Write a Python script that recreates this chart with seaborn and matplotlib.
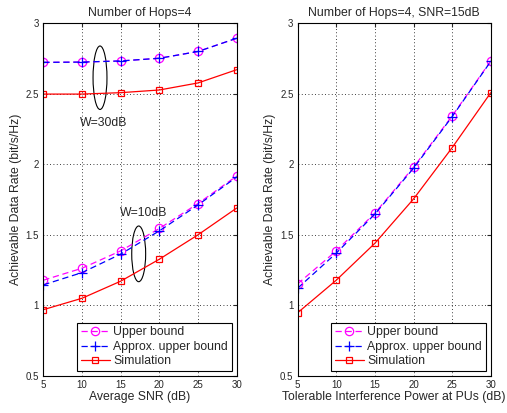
import numpy as np
import matplotlib
matplotlib.use('Agg')
import matplotlib.pyplot as plt
import seaborn as sns
from matplotlib.patches import Ellipse
from matplotlib.ticker import FuncFormatter

snr = [5, 10, 15, 20, 25, 30]

# left panel, W=30dB
ub_w30 = [2.723, 2.725, 2.733, 2.752, 2.800, 2.894]
ap_w30 = [2.723, 2.725, 2.733, 2.752, 2.800, 2.894]
sim_w30 = [2.498, 2.498, 2.508, 2.527, 2.577, 2.671]

# left panel, W=10dB
ub_w10 = [1.178, 1.263, 1.386, 1.545, 1.722, 1.917]
ap_w10 = [1.145, 1.232, 1.363, 1.528, 1.712, 1.910]
sim_w10 = [0.969, 1.050, 1.171, 1.327, 1.500, 1.690]

# right panel
itp = [5, 10, 15, 20, 25, 30]
ub_r = [1.152, 1.386, 1.654, 1.979, 2.343, 2.733]
ap_r = [1.121, 1.370, 1.647, 1.972, 2.338, 2.730]
sim_r = [0.947, 1.178, 1.440, 1.754, 2.118, 2.508]

sns.set_style('white')
plt.rcParams['font.family'] = ['Liberation Sans', 'DejaVu Sans']

fig = plt.figure(figsize=(5.07, 4.13), dpi=100)
ax1 = fig.add_axes([0.0854, 0.090, 0.3815, 0.8536])
ax2 = fig.add_axes([0.587, 0.090, 0.381, 0.8536])

styles = [
    ('Upper bound', 'magenta', 'o', 6, (0, (5, 3))),
    ('Approx. upper bound', 'blue', '+', 7, (0, (5, 3))),
    ('Simulation', 'red', 's', 5, '-'),
]


def draw(ax, x, series, show_label):
    for (lab, col, mk, ms, ls), y in zip(styles, series):
        sns.lineplot(x=x, y=y, ax=ax, color=col, marker=mk, linestyle=ls,
                     linewidth=0.9, markersize=ms,
                     markerfacecolor='none', markeredgecolor=col,
                     markeredgewidth=0.9,
                     label=lab if show_label else None, legend=False)


draw(ax1, snr, [ub_w30, ap_w30, sim_w30], True)
draw(ax1, snr, [ub_w10, ap_w10, sim_w10], False)
draw(ax2, itp, [ub_r, ap_r, sim_r], True)

ax1.add_patch(Ellipse((12.33, 2.614), 1.8, 0.45, fill=False, edgecolor='black', linewidth=0.8))
ax1.add_patch(Ellipse((17.33, 1.365), 1.8, 0.395, fill=False, edgecolor='black', linewidth=0.8))
ax1.text(9.7, 2.295, 'W=30dB', fontsize=8.8, va='center', ha='left')
ax1.text(14.9, 1.657, 'W=10dB', fontsize=8.8, va='center', ha='left')

fmt = FuncFormatter(lambda v, p: '%g' % v)
for ax, title, xl in [(ax1, 'Number of Hops=4', 'Average SNR (dB)'),
                      (ax2, 'Number of Hops=4, SNR=15dB', 'Tolerable Interference Power at PUs (dB)')]:
    ax.set_xlim(5, 30)
    ax.set_ylim(0.5, 3)
    ax.set_xticks([5, 10, 15, 20, 25, 30])
    ax.set_yticks([0.5, 1, 1.5, 2, 2.5, 3])
    ax.yaxis.set_major_formatter(fmt)
    ax.grid(True, linestyle=(0, (1, 3)), color='black', linewidth=0.6)
    ax.tick_params(direction='in', length=3, labelsize=7, top=True, right=True, pad=3)
    for s in ax.spines.values():
        s.set_linewidth(0.8)
        s.set_color('black')
    ax.set_title(title, fontsize=8.8, pad=5)
    ax.set_xlabel(xl, fontsize=8.8, labelpad=1)
    ax.set_ylabel('Achievable Data Rate (bit/s/Hz)', fontsize=8.8, labelpad=3)
    leg = ax.legend(loc='lower right', fontsize=8.8, frameon=True, fancybox=False,
                    edgecolor='black', borderpad=0.3, labelspacing=0.2,
                    handlelength=2.35, handletextpad=0.3, borderaxespad=0.4)
    leg.get_frame().set_linewidth(0.8)
    leg.get_frame().set_alpha(1)

fig.savefig('out.png', dpi=100)
